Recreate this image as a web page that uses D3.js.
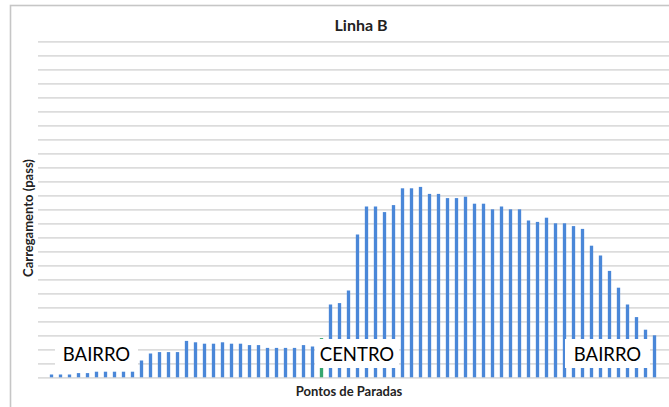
<!DOCTYPE html>
<html>
<head>
<meta charset="utf-8">
<script src="https://cdn.jsdelivr.net/npm/d3@7"></script>
<style>
  html, body { margin: 0; padding: 0; background: #fff; }
  svg { display: block; }
  text { font-family: Lato, "Open Sans", sans-serif; fill: #1a1a1a; }
</style>
</head>
<body>
<svg id="chart" width="669" height="407"></svg>
<script>
// Passenger load per stop along Linha B
const loads = [
  2, 2, 2, 3, 3, 4, 4, 4, 4, 4,
  12, 17, 18, 18, 18, 26, 25, 24, 24, 25,
  24, 24, 23, 23, 21, 21, 21, 21, 23, 22,
  28, 52, 53, 62, 102, 122, 122, 118, 123, 135,
  135, 136, 131, 131, 128, 128, 129, 124, 124, 120,
  122, 120, 120, 112, 111, 114, 110, 110, 108, 106,
  94, 87, 76, 64, 52, 43, 34, 30
];
const stops = loads.map((_, i) => i + 1);
const centroStop = 31;            // first stop of the central area
const gridTicks = [0, 10, 20, 30, 40, 50, 60, 70, 80, 90, 100, 110, 120,
                   130, 140, 150, 160, 170, 180, 190, 200, 210, 220, 230, 240];
const zoneLabels = [
  { text: "BAIRRO", x0: 55, x1: 138 },
  { text: "CENTRO", x0: 315, x1: 399 },
  { text: "BAIRRO", x0: 565, x1: 650 }
];

const svg = d3.select("#chart");
const plot = { left: 38, right: 668, top: 41.3, bottom: 377.3 };

// chart frame
svg.append("rect")
  .attr("x", 10.5).attr("y", 5.5)
  .attr("width", 700).attr("height", 500)
  .attr("fill", "#fff")
  .attr("stroke", "#c6c6c6").attr("stroke-width", 1.6);

const x = d3.scaleBand()
  .domain(stops)
  .range([plot.left, plot.right])
  .paddingInner(0.63)
  .paddingOuter(1.315);

const y = d3.scaleLinear()
  .domain([0, 240])
  .range([plot.bottom, plot.top]);

// horizontal gridlines
const grid = svg.append("g")
  .attr("transform", `translate(${plot.left},0)`)
  .call(d3.axisLeft(y)
    .tickValues(gridTicks)
    .tickSize(-(700))
    .tickFormat(""));
grid.select(".domain").remove();
grid.selectAll(".tick line")
  .attr("stroke", "#dcdcdc")
  .attr("stroke-width", 1.7);

// bars
svg.append("g").selectAll("rect")
  .data(loads)
  .join("rect")
  .attr("x", (d, i) => x(stops[i]))
  .attr("width", x.bandwidth())
  .attr("y", d => y(d))
  .attr("height", d => y(0) - y(d))
  .attr("fill", (d, i) => stops[i] === centroStop ? "#35a66f" : "#4a87d8");

// zone labels on white boxes
const zones = svg.append("g").selectAll("g")
  .data(zoneLabels)
  .join("g");
zones.append("rect")
  .attr("x", d => d.x0).attr("y", 339)
  .attr("width", d => d.x1 - d.x0).attr("height", 29)
  .attr("fill", "#fff");
zones.append("text")
  .attr("x", d => (d.x0 + d.x1) / 2)
  .attr("y", 360.5)
  .attr("text-anchor", "middle")
  .style("font-size", "18.5px")
  .style("fill", "#000")
  .text(d => d.text);

// title
svg.append("text")
  .attr("x", 361).attr("y", 31)
  .attr("text-anchor", "middle")
  .style("font-size", "16px").style("font-weight", "700")
  .style("fill", "#222")
  .text("Linha B");

// axis titles
svg.append("text")
  .attr("x", 349).attr("y", 396)
  .attr("text-anchor", "middle")
  .style("font-size", "13px").style("font-weight", "700")
  .style("fill", "#222")
  .text("Pontos de Paradas");

svg.append("text")
  .attr("transform", "translate(33,218) rotate(-90)")
  .attr("text-anchor", "middle")
  .style("font-size", "13px").style("font-weight", "700")
  .style("fill", "#222")
  .text("Carregamento (pass)");
</script>
</body>
</html>
